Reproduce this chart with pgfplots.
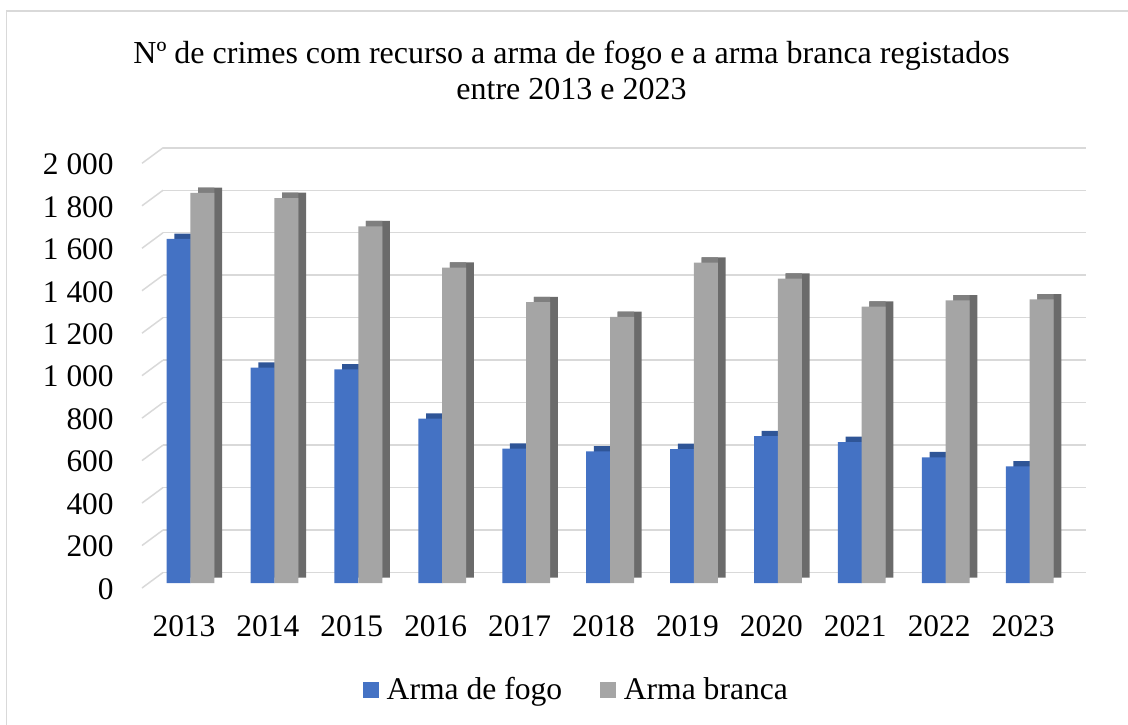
\documentclass[border=0pt]{standalone}
\usepackage{fontspec}
\setmainfont{Liberation Serif}
\usepackage{pgfplots}
\usepackage{pgfplotstable}
\pgfplotsset{compat=1.18}
\definecolor{fogo}{HTML}{4472C4}
\definecolor{fogocap}{HTML}{2F5597}
\definecolor{branca}{HTML}{A5A5A5}
\definecolor{brancaside}{HTML}{6B6B6B}
\definecolor{brancacap}{HTML}{7F7F7F}
\definecolor{gridc}{HTML}{D9D9D9}

\pgfplotstableread{
x fogo branca
0 1620 1837
1 1014 1813
2 1006 1680
3 774 1485
4 633 1323
5 620 1253
6 631 1509
7 692 1433
8 664 1301
9 592 1331
10 549 1336
}\data

\begin{document}
\begin{tikzpicture}
\useasboundingbox (0,0) rectangle (564pt,362pt);
\begin{scope}
\clip (0,0) rectangle (564pt,362pt);
\draw[gridc, line width=0.75pt] (3.25pt,-10pt) -- (3.25pt,356.5pt) -- (600pt,356.5pt);
\end{scope}
\node[align=center, font=\fontsize{16}{18}\selectfont] at (285.75pt,327pt) {Nº de crimes com recurso a arma de fogo e a arma branca registados\\entre 2013 e 2023};
\begin{axis}[
  at={(71pt,70.5pt)}, anchor=south west,
  scale only axis, width=461.5pt, height=212.35pt,
  xmin=-0.5, xmax=10.5, ymin=0, ymax=2000,
  axis line style={draw=none}, major tick length=0pt,
  xtick={0,1,2,3,4,5,6,7,8,9,10},
  xticklabels={2013,2014,2015,2016,2017,2018,2019,2020,2021,2022,2023},
  ytick={0,200,400,600,800,1000,1200,1400,1600,1800,2000},
  yticklabels={0,200,400,600,800,1 000,1 200,1 400,1 600,1 800,2 000},
  ymajorgrids,
  major grid style={gridc, line width=0.75pt, xshift=10.5pt, yshift=5.25pt},
  tick label style={font=\fontsize{15.7}{18}\selectfont},
  xticklabel style={yshift=-12.6pt},
  yticklabel style={xshift=-10.65pt, yshift=-3pt},
  clip=false,
  legend columns=2,
  legend style={at={(0.4718,-0.2519)}, anchor=center, draw=none, fill=none,
    font=\fontsize{15.8}{18}\selectfont,
    /tikz/every odd column/.append style={column sep=2pt},
    /tikz/every even column/.append style={column sep=17pt}},
  legend image code/.code={\fill[#1] (0pt,-3.9pt) rectangle (7.85pt,3.9pt);},
]
\pgfplotsinvokeforeach{0,200,400,600,800,1000,1200,1400,1600,1800,2000}{
  \draw[gridc, line width=0.75pt] ([yshift=-2.5pt]axis cs:-0.5,#1) -- ([xshift=10.5pt,yshift=5.25pt]axis cs:-0.5,#1);
}
\addplot[ybar, bar width=12pt, bar shift=1.2pt, yshift=2.65pt, fill=fogocap, draw=none, forget plot] table[x=x,y=fogo]{\data};
\addplot[ybar, bar width=12pt, bar shift=-2.65pt, fill=fogo, draw=none] table[x=x,y=fogo]{\data};
\addlegendentry{Arma de fogo}
\addplot[ybar, bar width=12pt, bar shift=13.1pt, yshift=2.65pt, fill=brancaside, draw=none, forget plot] table[x=x,y=branca]{\data};
\addplot[ybar, bar width=8.15pt, bar shift=11.175pt, yshift=2.65pt, fill=brancacap, draw=none, forget plot] table[x=x,y=branca]{\data};
\addplot[ybar, bar width=12pt, bar shift=9.25pt, fill=branca, draw=none] table[x=x,y=branca]{\data};
\addlegendentry{Arma branca}
\end{axis}
\end{tikzpicture}
\end{document}
